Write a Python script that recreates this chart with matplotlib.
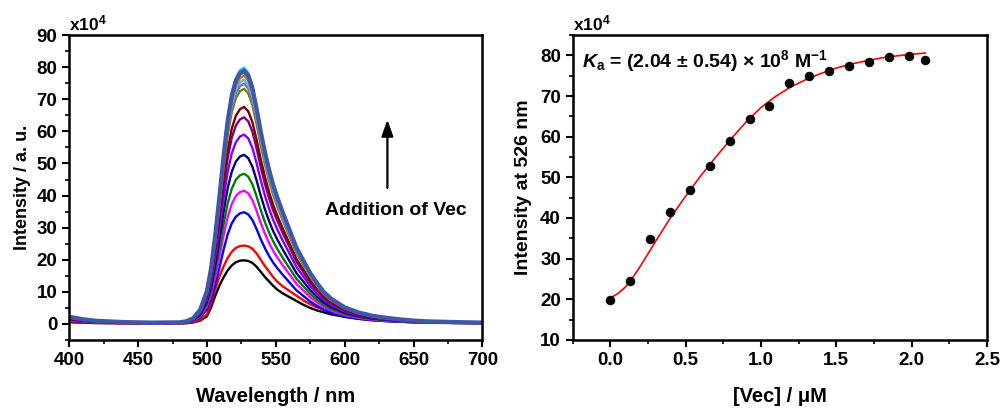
import matplotlib
matplotlib.use("Agg")
import matplotlib.pyplot as plt
import numpy as np
from matplotlib.ticker import MultipleLocator

plt.rcParams['font.family'] = ['Liberation Sans', 'DejaVu Sans']
plt.rcParams['font.weight'] = 'bold'
plt.rcParams['mathtext.fontset'] = 'custom'
plt.rcParams['mathtext.rm'] = 'Liberation Sans:bold'
plt.rcParams['mathtext.it'] = 'Liberation Sans:italic:bold'
plt.rcParams['mathtext.bf'] = 'Liberation Sans:bold'

# emission spectra (normalised to the peak)
wavelength = [400, 410, 420, 440, 460, 480, 485, 490, 495, 500, 503, 506, 509, 512,
              515, 518, 521, 524, 527, 530, 533, 536, 539, 542, 545, 548, 551, 555,
              560, 565, 570, 575, 580, 585, 590, 600, 610, 620, 630, 640, 650, 660,
              680, 700]
shape_high = [0.028, 0.018, 0.012, 0.007, 0.005, 0.006, 0.010, 0.022, 0.055, 0.13, 0.22,
              0.35, 0.50, 0.66, 0.80, 0.90, 0.96, 0.99, 1.00, 0.98, 0.93, 0.85, 0.76,
              0.68, 0.61, 0.55, 0.50, 0.44, 0.37, 0.30, 0.25, 0.20, 0.16, 0.125, 0.10,
              0.065, 0.045, 0.032, 0.024, 0.018, 0.013, 0.010, 0.007, 0.005]
shape_low = [0.025, 0.018, 0.012, 0.008, 0.006, 0.007, 0.010, 0.022, 0.05, 0.12, 0.26,
             0.44, 0.60, 0.73, 0.84, 0.92, 0.97, 0.995, 1.00, 0.99, 0.96, 0.90, 0.82,
             0.74, 0.67, 0.60, 0.54, 0.48, 0.42, 0.36, 0.30, 0.25, 0.21, 0.18, 0.15,
             0.11, 0.08, 0.06, 0.045, 0.035, 0.027, 0.020, 0.015, 0.012]
peaks = [19.8, 24.4, 34.8, 41.5, 46.8, 52.7, 59.0, 64.4, 67.6, 73.3, 74.9, 76.1,
         77.4, 78.4, 79.6, 79.9, 79.0]
colors = ['black', '#ff0000', '#0000ff', '#ff00ff', '#008000', '#000080', '#8000ff',
          '#800080', '#800000', '#808000', '#4f81bd', '#7ea6d8', '#c0783a', '#2e9a5e',
          '#1f8f8f', '#33cccc', '#3f57a8']

# titration points at 526 nm
conc = [0.0, 0.132, 0.264, 0.396, 0.528, 0.66, 0.792, 0.924, 1.056, 1.188, 1.32,
        1.452, 1.584, 1.716, 1.848, 1.98, 2.09]
intensity = [19.8, 24.4, 34.8, 41.5, 46.8, 52.7, 59.0, 64.4, 67.6, 73.3, 74.9, 76.1,
             77.4, 78.4, 79.6, 79.9, 79.0]
fit_x = [0.0, 0.05, 0.1, 0.15, 0.2, 0.3, 0.4, 0.5, 0.6, 0.7, 0.8, 0.9, 1.0, 1.1, 1.2,
         1.3, 1.4, 1.5, 1.6, 1.7, 1.8, 1.9, 2.0, 2.09]
fit_y = [20.3, 21.4, 23.0, 25.4, 28.2, 34.2, 40.1, 45.4, 50.4, 55.0, 59.4, 63.6, 67.2,
         70.0, 72.3, 74.1, 75.6, 76.9, 77.9, 78.7, 79.4, 79.9, 80.3, 80.6]

fig = plt.figure(figsize=(10.03, 4.09), dpi=100)
ax1 = fig.add_axes([0.069, 0.169, 0.412, 0.745])
ax2 = fig.add_axes([0.571, 0.169, 0.413, 0.745])

n = len(peaks)
for i, (p, c) in enumerate(zip(peaks, colors)):
    shp = shape_low if i < 2 else shape_high
    lw = 3.0 if i == n - 1 else 1.7
    ax1.plot(wavelength, np.array(shp) * p, color=c, lw=lw, zorder=2 + i * 0.01)

ax1.set_xlim(400, 700)
ax1.set_ylim(-5, 90)
ax1.xaxis.set_major_locator(MultipleLocator(50))
ax1.xaxis.set_minor_locator(MultipleLocator(25))
ax1.yaxis.set_major_locator(MultipleLocator(10))
ax1.yaxis.set_minor_locator(MultipleLocator(5))
ax1.set_xlabel('Wavelength / nm', fontsize=14.5, fontweight='bold', labelpad=13)
ax1.set_ylabel('Intensity / a. u.', fontsize=13, fontweight='bold', labelpad=4)
ax1.text(0.0, 1.005, r'x10$^{4}$', transform=ax1.transAxes, fontsize=12.5,
         fontweight='bold', ha='left', va='bottom')
ax1.annotate('', xy=(631, 64.5), xytext=(631, 41.5),
             arrowprops=dict(arrowstyle='-|>,head_length=0.7,head_width=0.25',
                             color='black', lw=1.6, mutation_scale=14))
ax1.text(637.5, 35.3, 'Addition of Vec', fontsize=14, fontweight='bold',
         ha='center', va='center')

ax2.plot(fit_x, fit_y, color='#ff0000', lw=1.2, zorder=2)
ax2.scatter(conc, intensity, s=34, color='black', zorder=3)
ax2.set_xlim(-0.25, 2.5)
ax2.set_ylim(10, 85)
ax2.xaxis.set_major_locator(MultipleLocator(0.5))
ax2.xaxis.set_minor_locator(MultipleLocator(0.25))
ax2.yaxis.set_major_locator(MultipleLocator(10))
ax2.yaxis.set_minor_locator(MultipleLocator(5))
ax2.xaxis.set_major_formatter(plt.FuncFormatter(lambda v, p: '%.1f' % v))
ax2.set_xlabel('[Vec] / \u03bcM', fontsize=14.5, fontweight='bold', labelpad=13)
ax2.set_ylabel('Intensity at 526 nm', fontsize=14, fontweight='bold', labelpad=6)
ax2.text(0.0, 1.005, r'x10$^{4}$', transform=ax2.transAxes, fontsize=12.5,
         fontweight='bold', ha='left', va='bottom')
ax2.text(0.022, 0.895, r'$\mathit{K}_\mathrm{a}$ = (2.04 $\pm$ 0.54) $\times$ 10$^{8}$ M$^{-1}$',
         transform=ax2.transAxes, fontsize=14, fontweight='bold', ha='left', va='baseline')

for ax in (ax1, ax2):
    for s in ax.spines.values():
        s.set_linewidth(1.8)
    ax.tick_params(which='major', direction='out', length=5, width=1.5, labelsize=13.5)
    ax.tick_params(which='minor', direction='out', length=3, width=1.2)
    for lab in ax.get_xticklabels() + ax.get_yticklabels():
        lab.set_fontweight('bold')

fig.savefig('out.png', dpi=100)
